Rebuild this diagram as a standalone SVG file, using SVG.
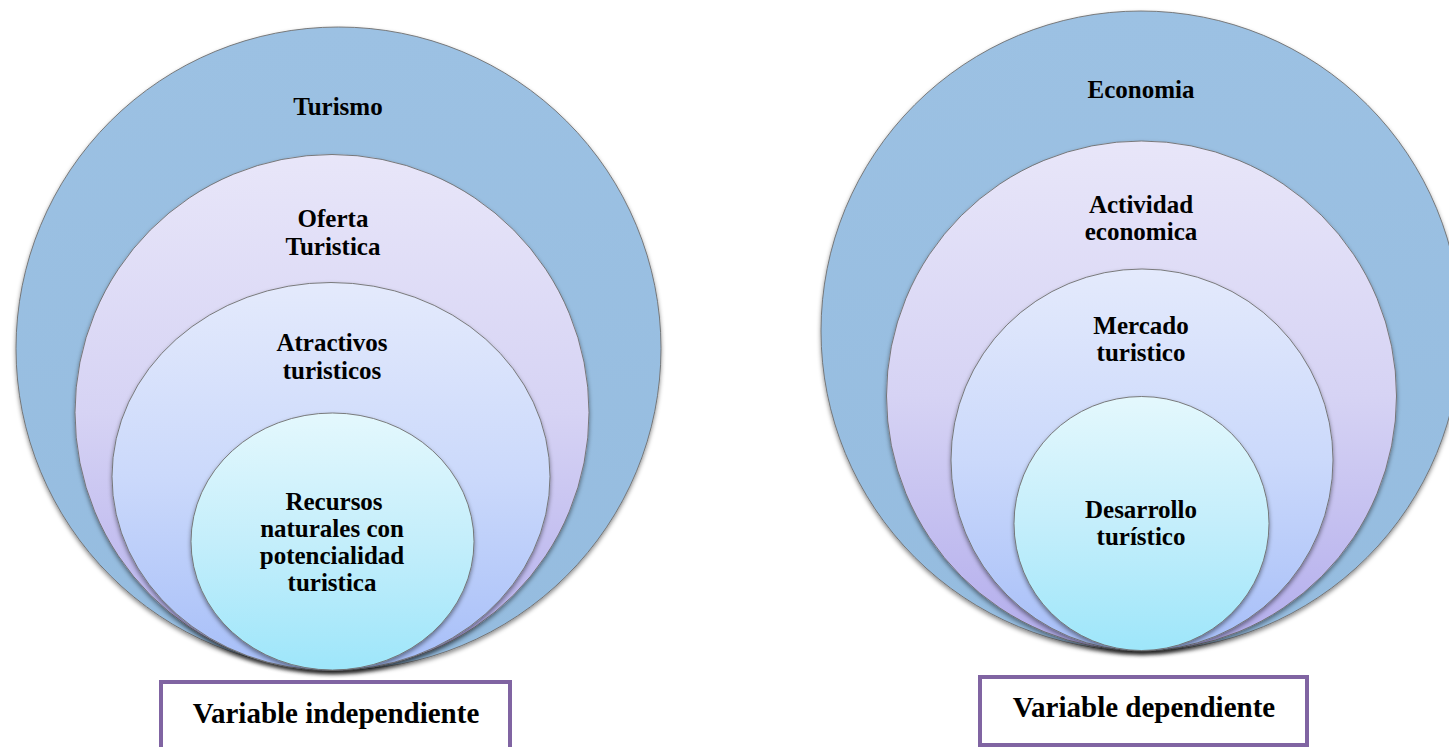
<svg xmlns="http://www.w3.org/2000/svg" width="1449" height="747" viewBox="0 0 1449 747">
  <style>
    .ring { stroke: #6e6e6e; stroke-width: 0.9; filter: url(#sh); }
    .lbl { font-family: "Liberation Serif", "Times New Roman", serif; font-weight: bold; font-size: 25px; fill: #000; text-anchor: middle; }
    .box { fill: #ffffff; stroke: #8064A2; stroke-width: 4; }
    .boxlbl { font-family: "Liberation Serif", "Times New Roman", serif; font-weight: bold; font-size: 29px; fill: #000; text-anchor: middle; }
  </style>
  <defs>
    <filter id="sh" x="-10%" y="-10%" width="120%" height="125%">
      <feDropShadow dx="0" dy="2.5" stdDeviation="2" flood-color="#000" flood-opacity="0.45"/>
    </filter>
    <linearGradient id="gOuter" x1="0" y1="0" x2="0" y2="1">
      <stop offset="0" stop-color="#9CC1E3"/>
      <stop offset="1" stop-color="#95BCDF"/>
    </linearGradient>
    <linearGradient id="gL2" x1="0" y1="0" x2="0" y2="1">
      <stop offset="0" stop-color="#E8E6F9"/>
      <stop offset="0.5" stop-color="#D6D3F4"/>
      <stop offset="1" stop-color="#B2ACEC"/>
    </linearGradient>
    <linearGradient id="gL3" x1="0" y1="0" x2="0" y2="1">
      <stop offset="0" stop-color="#E4EAFC"/>
      <stop offset="0.5" stop-color="#CBD9FB"/>
      <stop offset="1" stop-color="#A6BEF8"/>
    </linearGradient>
    <linearGradient id="gL4" x1="0" y1="0" x2="0" y2="1">
      <stop offset="0" stop-color="#E4F8FD"/>
      <stop offset="0.5" stop-color="#C4EEFB"/>
      <stop offset="1" stop-color="#9EE6FA"/>
    </linearGradient>
  </defs>

  <!-- Left diagram: Variable independiente -->
  <g id="turismo">
    <ellipse class="ring" cx="338.5" cy="348.5" rx="322.5" ry="321.5" fill="url(#gOuter)"/>
    <text class="lbl" x="338" y="115">Turismo</text>
  </g>
  <g id="oferta-turistica">
    <ellipse class="ring" cx="332" cy="412.5" rx="257" ry="258" fill="url(#gL2)"/>
    <text class="lbl" x="333" y="227">Oferta</text>
    <text class="lbl" x="333" y="255">Turistica</text>
  </g>
  <g id="atractivos-turisticos">
    <ellipse class="ring" cx="331" cy="476.5" rx="219" ry="194" fill="url(#gL3)"/>
    <text class="lbl" x="332" y="351">Atractivos</text>
    <text class="lbl" x="332" y="379">turisticos</text>
  </g>
  <g id="recursos-naturales">
    <ellipse class="ring" cx="332.5" cy="541.5" rx="141.5" ry="128.5" fill="url(#gL4)"/>
    <text class="lbl" x="334" y="510">Recursos</text>
    <text class="lbl" x="332" y="537">naturales con</text>
    <text class="lbl" x="332" y="564">potencialidad</text>
    <text class="lbl" x="332" y="591">turistica</text>
  </g>
  <g id="variable-independiente">
    <rect class="box" x="161" y="682" width="349" height="90"/>
    <text class="boxlbl" x="336" y="723">Variable independiente</text>
  </g>

  <!-- Right diagram: Variable dependiente -->
  <g id="economia">
    <ellipse class="ring" cx="1141" cy="331" rx="320" ry="320" fill="url(#gOuter)"/>
    <text class="lbl" x="1141" y="98">Economia</text>
  </g>
  <g id="actividad-economica">
    <ellipse class="ring" cx="1141.5" cy="396" rx="255" ry="255" fill="url(#gL2)"/>
    <text class="lbl" x="1141" y="213">Actividad</text>
    <text class="lbl" x="1141" y="240">economica</text>
  </g>
  <g id="mercado-turistico">
    <ellipse class="ring" cx="1142" cy="460" rx="191" ry="191" fill="url(#gL3)"/>
    <text class="lbl" x="1141" y="334">Mercado</text>
    <text class="lbl" x="1141" y="361">turistico</text>
  </g>
  <g id="desarrollo-turistico">
    <ellipse class="ring" cx="1141.5" cy="523.5" rx="127.5" ry="127" fill="url(#gL4)"/>
    <text class="lbl" x="1141" y="518">Desarrollo</text>
    <text class="lbl" x="1141" y="545">turístico</text>
  </g>
  <g id="variable-dependiente">
    <rect class="box" x="980" y="677" width="327" height="68"/>
    <text class="boxlbl" x="1144" y="717">Variable dependiente</text>
  </g>

  <g id="connectors"></g>
</svg>
